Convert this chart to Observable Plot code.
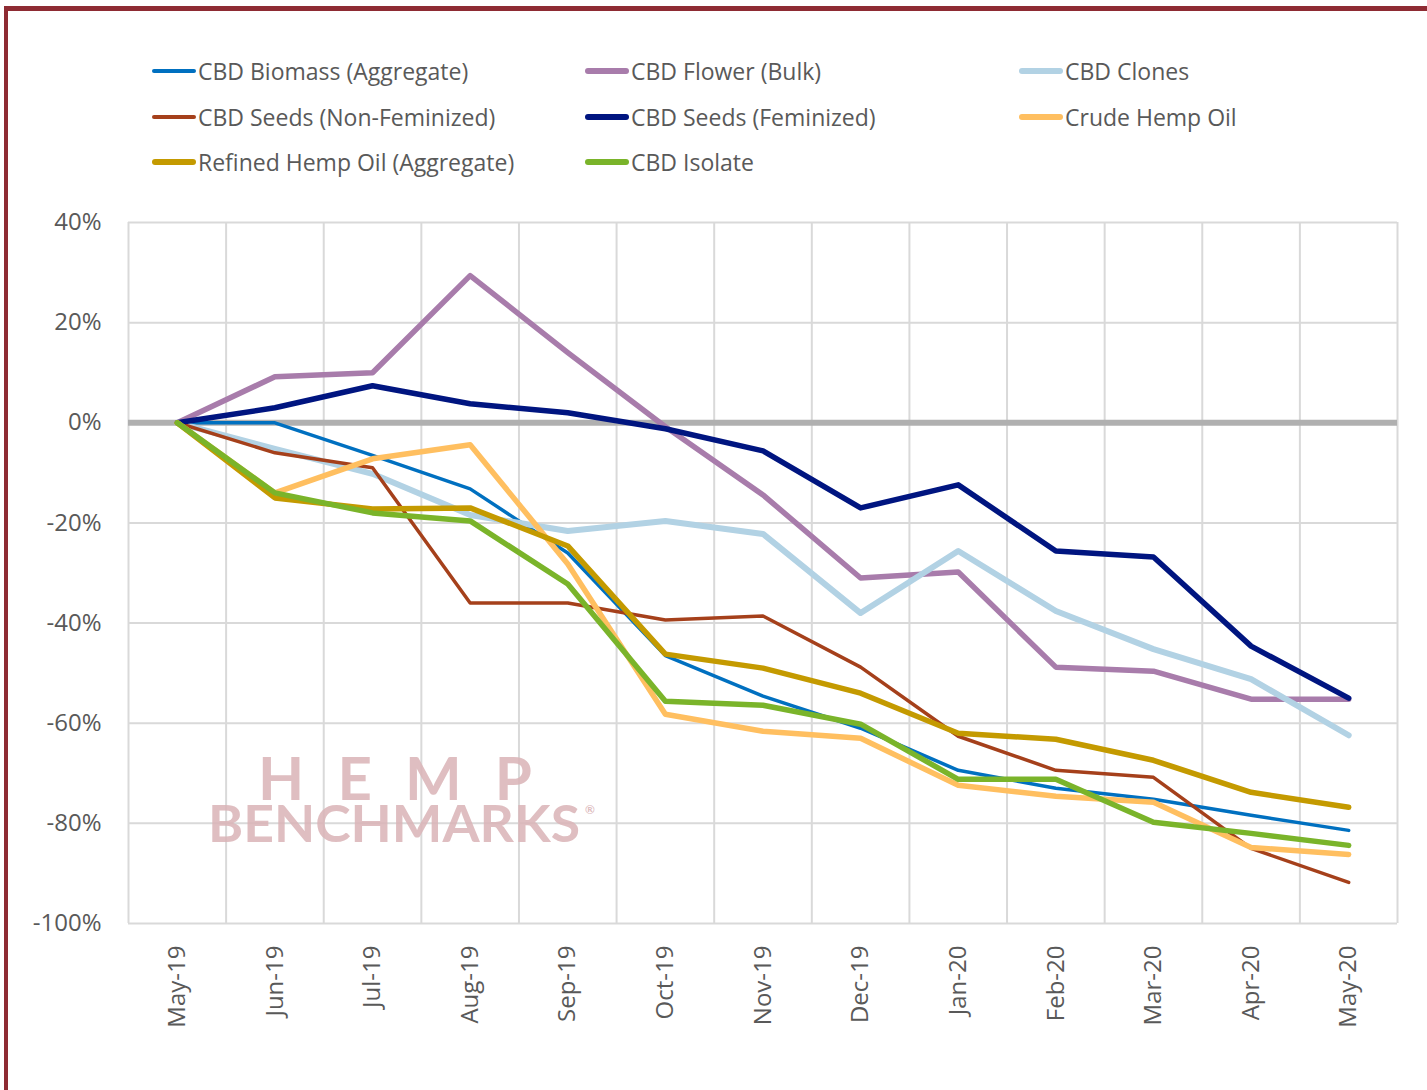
<!DOCTYPE html>
<html>
<head>
<meta charset="utf-8">
<script src="https://cdn.jsdelivr.net/npm/d3@7"></script>
<script src="https://cdn.jsdelivr.net/npm/@observablehq/plot@0.6"></script>
<style>
  html, body { margin: 0; padding: 0; background: #fff; }
  #page { position: relative; width: 1427px; height: 1090px; overflow: hidden; background: #fff; font-family: "Open Sans", sans-serif; }
  #frame { position: absolute; left: 4px; top: 6px; width: 1500px; height: 1200px; border-left: 4px solid #8E2B33; border-top: 5px solid #8E2B33; box-sizing: border-box; z-index: 5; pointer-events: none; }
  #legend { position: absolute; left: 0; top: 0; width: 1427px; height: 200px; }
  .item { position: absolute; display: flex; align-items: center; font-size: 23px; color: #595959; white-space: nowrap; transform: translateY(-50%); }
  .swatch { width: 44px; border-radius: 3px; margin-right: 2px; }
  #chart { position: absolute; left: 0; top: 200px; }
  #wm { position: absolute; left: 0; top: 0; pointer-events: none; z-index: 4; }
</style>
</head>
<body>
<div id="page">
  <div id="legend"></div>
  <div id="chart"></div>
  <svg id="wm" width="1427" height="1090">
    <text fill="#D9B3B6" fill-opacity="0.85" font-family="Lato, 'DejaVu Sans', sans-serif" font-weight="700"><tspan x="258" y="800" font-size="60" textLength="274" lengthAdjust="spacing">HEMP</tspan><tspan x="208" y="842" font-size="52" textLength="372" lengthAdjust="spacingAndGlyphs">BENCHMARKS</tspan><tspan x="585" y="814" font-size="12">®</tspan></text>
  </svg>
  <div id="frame"></div>
</div>
<script>
// ---- data (percent change vs May-19) ----
const months = ["May-19","Jun-19","Jul-19","Aug-19","Sep-19","Oct-19","Nov-19","Dec-19","Jan-20","Feb-20","Mar-20","Apr-20","May-20"];
const seriesNames = ["CBD Biomass (Aggregate)","CBD Flower (Bulk)","CBD Clones","CBD Seeds (Non-Feminized)","CBD Seeds (Feminized)","Crude Hemp Oil","Refined Hemp Oil (Aggregate)","CBD Isolate"];
const biomass     = [0, 0, -6.5, -13.2, -26, -46.5, -54.6, -61, -69.4, -73, -75.2, -78.4, -81.4];
const flower      = [0, 9.2, 10, 29.4, 14, -0.8, -14.4, -31, -29.8, -48.8, -49.6, -55.2, -55.2];
const clones      = [0, -5.2, -10.2, -18.4, -21.6, -19.6, -22.2, -38, -25.6, -37.6, -45.2, -51.2, -62.4];
const seedsNonFem = [0, -6, -9, -36, -36, -39.4, -38.6, -48.8, -62.6, -69.4, -70.8, -85, -91.8];
const seedsFem    = [0, 3, 7.4, 3.8, 2, -1.2, -5.6, -17, -12.4, -25.6, -26.8, -44.6, -55];
const crudeOil    = [0, -14, -7.2, -4.4, -28.2, -58.2, -61.6, -63, -72.4, -74.6, -75.8, -84.8, -86.2];
const refinedOil  = [0, -15, -17.2, -17, -24.6, -46.2, -49, -54, -62, -63.2, -67.4, -73.8, -76.8];
const isolate     = [0, -14, -18, -19.6, -32.2, -55.6, -56.4, -60.2, -71.2, -71.2, -79.8, -82, -84.4];
const yTicks = [-100, -80, -60, -40, -20, 0, 20, 40];

// ---- styles ----
const colors = ["#0070C0","#A87CAB","#B2D2E4","#A5401B","#001580","#FFBF60","#C49A00","#7AB42A"];
const widths = [3.5, 5.5, 6, 3.5, 5.5, 5.5, 5.5, 5.5];
const values = [biomass, flower, clones, seedsNonFem, seedsFem, crudeOil, refinedOil, isolate];

// ---- legend ----
const legend = document.getElementById("legend");
const colX = [152, 585, 1019];
const rowY = [71, 117, 162];
seriesNames.forEach((name, k) => {
  const it = document.createElement("div");
  it.className = "item";
  it.style.left = colX[k % 3] + "px";
  it.style.top = rowY[Math.floor(k / 3)] + "px";
  const sw = document.createElement("div");
  sw.className = "swatch";
  sw.style.height = widths[k] + "px";
  sw.style.background = colors[k];
  const tx = document.createElement("span");
  tx.textContent = name;
  it.appendChild(sw); it.appendChild(tx);
  legend.appendChild(it);
});

// ---- chart ----
const idx = d3.range(months.length);
const gridX = d3.range(months.length + 1).map(i => i - 0.5);
const lineMarks = values.map((vals, k) =>
  Plot.line(idx.map(i => ({i, v: vals[i], s: seriesNames[k]})), {
    x: "i", y: "v", stroke: colors[k], strokeWidth: widths[k],
    strokeLinejoin: "round", strokeLinecap: "round"
  })
);

const chart = Plot.plot({
  width: 1427,
  height: 890,
  marginLeft: 128,
  marginRight: 30,
  marginTop: 22,
  marginBottom: 167,
  x: {type: "linear", domain: [-0.5, months.length - 0.5]},
  y: {domain: [-100, 40]},
  style: {fontFamily: "'Open Sans', sans-serif", fontSize: "24px", color: "#595959", background: "transparent", overflow: "visible"},
  marks: [
    Plot.ruleY(yTicks, {stroke: "#D9D9D9", strokeWidth: 2}),
    Plot.ruleX(gridX, {stroke: "#D9D9D9", strokeWidth: 2}),
    Plot.ruleY([0], {stroke: "#B0B0B0", strokeWidth: 6}),
    ...lineMarks,
    Plot.axisY({ticks: yTicks, tickFormat: d => d + "%", tickSize: 0, tickPadding: 27, label: null, fill: "#595959"}),
    Plot.axisX({ticks: idx, tickFormat: i => months[i], tickRotate: -90, tickSize: 0, tickPadding: 22, label: null, fill: "#595959"})
  ]
});
document.getElementById("chart").appendChild(chart);
</script>
</body>
</html>
